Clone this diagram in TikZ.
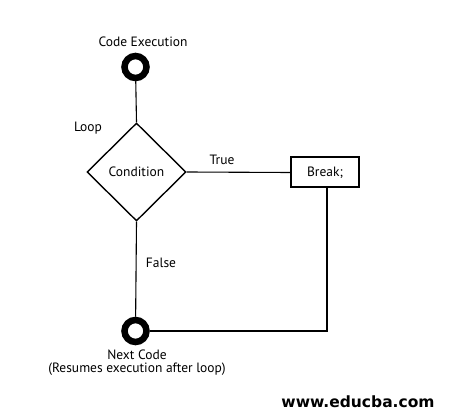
\documentclass[tikz,border=0pt]{standalone}
\usepackage{fontspec}
\setmainfont{PT Sans}
\newfontfamily\wmfont{DejaVu Sans}
\usetikzlibrary{shapes.geometric}
\begin{document}
\begin{tikzpicture}[x=1pt,y=-1pt,
  conn/.style={draw=black,line width=1.1pt},
  term/.style={circle,draw=black,line width=6.5pt,minimum size=22pt,inner sep=0pt},
  lbl/.style={font=\fontsize{13.5}{13.5}\selectfont,inner sep=0pt},
  decision/.style={diamond,draw=black,line width=1.4pt,minimum width=99pt,minimum height=98pt,inner sep=0pt,aspect=1,font=\fontsize{13.5}{13.5}\selectfont},
  stepbox/.style={rectangle,draw=black,line width=2pt,minimum width=68pt,minimum height=30pt,inner sep=0pt,font=\fontsize{13.5}{13.5}\selectfont}]
\useasboundingbox[fill=white] (0,0) rectangle (466,419);
\node[term] (start) at (135.5,67) {};
\node[lbl] (startlbl) at (143,42) {Code Execution};
\node[decision] (cond) at (136.5,172) {Condition};
\node[stepbox] (brk) at (325,172.5) {Break;};
\node[term] (next) at (135.5,331) {};
\node[lbl,align=center] (nextlbl) at (137,362.5) {Next Code\\[-1pt](Resumes execution after loop)};
\node[lbl] (loop) at (88,128) {Loop};
\node[lbl] (true) at (222,160) {True};
\node[lbl] (false) at (161,263) {False};
\coordinate (bend) at (327,331);
\draw[conn] (start) -- (cond.north);
\draw[conn] (cond.east) -- (brk.west);
\draw[conn] (cond.south) -- (next);
\draw[conn] (327,0 |- brk.south) -- (bend) -- (next);
\node[font=\wmfont\bfseries\fontsize{15.5}{15.5}\selectfont,inner sep=0pt] (wm) at (358,402) {www.educba.com};
\end{tikzpicture}
\end{document}
